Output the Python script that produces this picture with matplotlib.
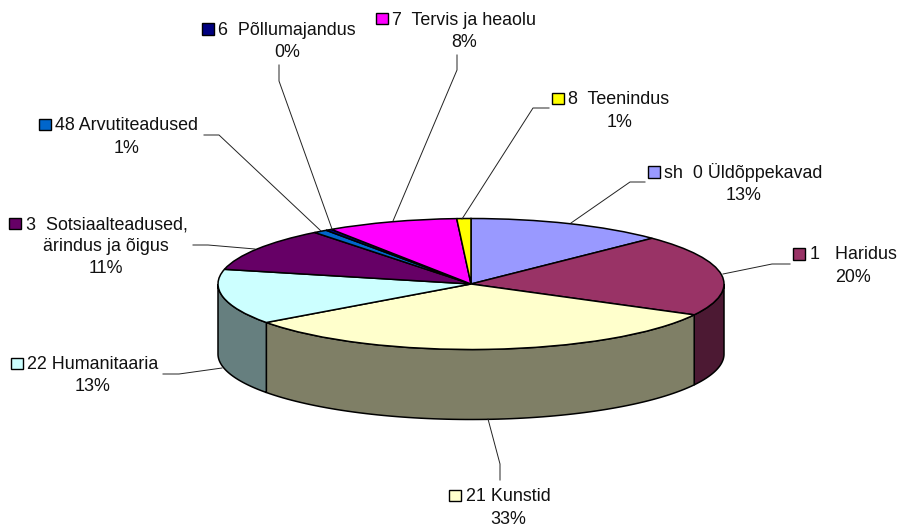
import matplotlib
matplotlib.use("Agg")
import matplotlib.pyplot as plt
import numpy as np

plt.rcParams['font.family'] = ['Liberation Sans', 'DejaVu Sans']

# clockwise from the top of the pie
names = ["sh  0 Üldõppekavad", "1   Haridus", "21 Kunstid", "22 Humanitaaria",
         "3  Sotsiaalteadused,\närindus ja õigus", "48 Arvutiteadused",
         "6  Põllumajandus", "7  Tervis ja heaolu", "8  Teenindus"]
percents = ["13%", "20%", "33%", "13%", "11%", "1%", "0%", "8%", "1%"]
values = [12.7, 20.1, 32.2, 13.6, 10.8, 0.9, 0.4, 8.4, 0.9]
top_colors = ["#9999FF", "#993366", "#FFFFCC", "#CCFFFF", "#660066",
              "#0066CC", "#000080", "#FF00FF", "#FFFF00"]
side_colors = ["#4C4C7F", "#4C1933", "#7F7F66", "#667F7F", "#330033",
               "#003366", "#000040", "#7F007F", "#7F7F00"]

# layout in picture pixels
W, H = 899, 529
cx, cy, rx, ry, depth = 471, 284, 253, 65.5, 70
key_x = [648, 793, 449, 11, 9, 39, 202, 376, 552]
key_y = [171.5, 253.5, 495, 363, 223, 124, 28.5, 18, 98]
text_x = [664, 810, 466, 27, 26, 55, 218, 392, 568]
base_y = [178, 259, 501, 369, 229, 130, 35, 25, 104]
pct_x = [744, 853, 508, 93, 106, 127, 287, 464, 620]
pct_y = [200, 282, 524, 391, 273, 153, 57, 47, 127]
leaders = [
    [(645, 182), (630, 182), (571, 223)],
    [(790, 264), (772, 264), (723, 274)],
    [(500, 480), (500, 464), (488, 419)],
    [(163, 374), (179, 374), (222, 368)],
    [(193, 245), (208, 245), (255, 249)],
    [(204, 135), (219, 135), (321, 231)],
    [(279, 65), (279, 81), (332, 229)],
    [(457, 55), (457, 70), (393, 221)],
    [(549, 108), (533, 108), (462, 219)],
]

fig = plt.figure(figsize=(W / 100, H / 100), dpi=100)

ax = fig.add_axes([0, 0, 1, 1])
wedges, _ = ax.pie(values, colors=top_colors, startangle=90, counterclock=False,
                   wedgeprops=dict(edgecolor="black", linewidth=1.1, zorder=3))
ax.set_aspect('auto')
ax.set_xlim(-cx / rx, (W - cx) / rx)
ax.set_ylim((cy - H) / ry, cy / ry)

# side wall of the disc, only the front half shows
drop = depth / ry
edges = np.cumsum([0] + values) / sum(values)
for i in range(len(values)):
    lo, hi = max(edges[i], 0.25), min(edges[i + 1], 0.75)
    if hi <= lo:
        continue
    t = np.radians(90 - 360 * np.linspace(lo, hi, 80))
    xs = np.r_[np.cos(t), np.cos(t)[::-1]]
    ys = np.r_[np.sin(t), np.sin(t)[::-1] - drop]
    ax.fill(xs, ys, facecolor=side_colors[i], edgecolor="black", linewidth=1.1, zorder=1)

# labels, keys and leader lines go on a pixel overlay
over = fig.add_axes([0, 0, 1, 1])
over.set_xlim(0, W)
over.set_ylim(H, 0)
over.axis('off')
over.patch.set_alpha(0)

for i, name in enumerate(names):
    lines = name.split("\n")
    over.text(text_x[i], base_y[i], lines[0], fontsize=12.9, color="#111111",
              ha="left", va="baseline")
    if len(lines) > 1:
        over.text(pct_x[i], base_y[i] + 22, lines[1], fontsize=12.9, color="#111111",
                  ha="center", va="baseline")
    over.text(pct_x[i], pct_y[i], percents[i], fontsize=12.9, color="#111111",
              ha="center", va="baseline")
    over.add_patch(plt.Rectangle((key_x[i], key_y[i] - 5.5), 11.5, 11.5,
                                 facecolor=top_colors[i], edgecolor="black", linewidth=1.0))
    pts = np.array(leaders[i])
    over.plot(pts[:, 0], pts[:, 1], color="#222222", linewidth=0.7)

fig.savefig("out.png", dpi=100)
